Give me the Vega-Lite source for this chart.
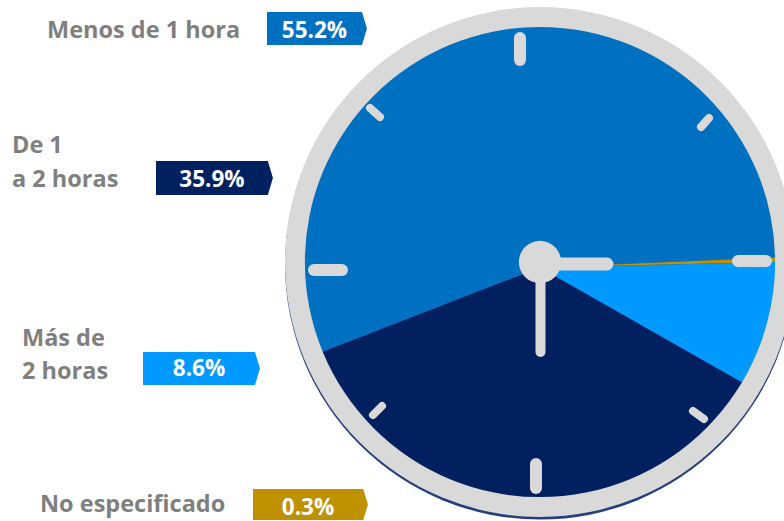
{
  "$schema": "https://vega.github.io/schema/vega-lite/v6.json",
  "width": 784,
  "height": 521,
  "autosize": {"type": "none"},
  "padding": 0,
  "background": "white",
  "config": {"view": {"stroke": null}},
  "layer": [
    {
      "data": {"values": [{"part": "sombra"}]},
      "mark": {"type": "arc", "theta": 0, "theta2": 6.2832, "color": "#23407E"},
      "encoding": {
        "x": {"datum": 0, "type": "quantitative", "scale": {"type": "linear", "domain": [-211.76, 95.69], "nice": false, "zero": false}, "axis": null},
        "y": {"datum": -1.0, "type": "quantitative", "scale": {"type": "linear", "domain": [-101.57, 102.75], "nice": false, "zero": false}, "axis": null},
        "radius": {"datum": 100, "type": "quantitative", "scale": {"type": "linear", "domain": [0, 100], "range": [0, 255], "zero": true}}
      }
    },
    {
      "data": {"values": [
        {"cat": "De 1 a 2 horas", "pct": 35.9, "ord": 1},
        {"cat": "Menos de 1 hora", "pct": 55.2, "ord": 2},
        {"cat": "No especificado", "pct": 0.3, "ord": 3},
        {"cat": "Más de 2 horas", "pct": 8.6, "ord": 4}
      ]},
      "mark": {"type": "arc", "stroke": null},
      "encoding": {
        "x": {"datum": 0, "type": "quantitative", "scale": {"type": "linear", "domain": [-211.76, 95.69], "nice": false, "zero": false}, "axis": null},
        "y": {"datum": -2.16, "type": "quantitative", "scale": {"type": "linear", "domain": [-101.57, 102.75], "nice": false, "zero": false}, "axis": null},
        "theta": {"field": "pct", "type": "quantitative", "stack": true, "scale": {"domain": [0, 100], "range": [2.0874, 8.3706]}},
        "order": {"field": "ord", "type": "quantitative"},
        "radius": {"datum": 96, "type": "quantitative"},
        "color": {"field": "cat", "type": "nominal", "scale": {"domain": ["Menos de 1 hora", "De 1 a 2 horas", "Más de 2 horas", "No especificado"], "range": ["#0070C0", "#002060", "#0099FF", "#BF9000"]}, "legend": null}
      }
    },
    {
      "data": {"values": [{"part": "aro"}]},
      "mark": {"type": "arc", "theta": 0, "theta2": 6.2832, "color": "#D9D9D9"},
      "encoding": {
        "x": {"datum": 0, "type": "quantitative", "scale": {"type": "linear", "domain": [-211.76, 95.69], "nice": false, "zero": false}, "axis": null},
        "y": {"datum": 0, "type": "quantitative", "scale": {"type": "linear", "domain": [-101.57, 102.75], "nice": false, "zero": false}, "axis": null},
        "radius": {"datum": 100, "type": "quantitative"},
        "radius2": {"datum": 92.2}
      }
    },
    {
      "data": {"values": [
        {"tipo": "cardinal", "x": -7.84, "y": 87.84, "x2": -7.84, "y2": 79.22},
        {"tipo": "cardinal", "x": -1.57, "y": -79.22, "x2": -1.57, "y2": -88.63},
        {"tipo": "cardinal", "x": -88.63, "y": -3.14, "x2": -77.65, "y2": -3.14},
        {"tipo": "cardinal", "x": 77.65, "y": 0.39, "x2": 88.63, "y2": 0.39}
      ]},
      "mark": {"type": "rule", "color": "#D9D9D9", "strokeWidth": 12, "strokeCap": "round"},
      "encoding": {
        "x": {"field": "x", "type": "quantitative", "scale": {"type": "linear", "domain": [-211.76, 95.69], "nice": false, "zero": false}, "axis": null},
        "y": {"field": "y", "type": "quantitative", "scale": {"type": "linear", "domain": [-101.57, 102.75], "nice": false, "zero": false}, "axis": null},
        "x2": {"field": "x2"},
        "y2": {"field": "y2"}
      }
    },
    {
      "data": {"values": [
        {"tipo": "diagonal", "x": -66.67, "y": 60.39, "x2": -62.75, "y2": 56.86},
        {"tipo": "diagonal", "x": 66.27, "y": 56.47, "x2": 63.14, "y2": 52.94},
        {"tipo": "diagonal", "x": -61.96, "y": -56.47, "x2": -65.49, "y2": -60.0},
        {"tipo": "diagonal", "x": 60.0, "y": -58.43, "x2": 64.31, "y2": -61.57}
      ]},
      "mark": {"type": "rule", "color": "#D9D9D9", "strokeWidth": 8, "strokeCap": "round"},
      "encoding": {
        "x": {"field": "x", "type": "quantitative", "scale": {"type": "linear", "domain": [-211.76, 95.69], "nice": false, "zero": false}, "axis": null},
        "y": {"field": "y", "type": "quantitative", "scale": {"type": "linear", "domain": [-101.57, 102.75], "nice": false, "zero": false}, "axis": null},
        "x2": {"field": "x2"},
        "y2": {"field": "y2"}
      }
    },
    {
      "data": {"values": [
        {"aguja": "minutero", "x": 0.2, "y": -3.0, "x2": 0.2, "y2": -35.3}
      ]},
      "mark": {"type": "rule", "color": "#D9D9D9", "strokeWidth": 10, "strokeCap": "round"},
      "encoding": {
        "x": {"field": "x", "type": "quantitative", "scale": {"type": "linear", "domain": [-211.76, 95.69], "nice": false, "zero": false}, "axis": null},
        "y": {"field": "y", "type": "quantitative", "scale": {"type": "linear", "domain": [-101.57, 102.75], "nice": false, "zero": false}, "axis": null},
        "x2": {"field": "x2"},
        "y2": {"field": "y2"}
      }
    },
    {
      "data": {"values": [
        {"aguja": "horario", "x": 3.1, "y": -0.78, "x2": 26.27, "y2": -0.78}
      ]},
      "mark": {"type": "rule", "color": "#D9D9D9", "strokeWidth": 13, "strokeCap": "round"},
      "encoding": {
        "x": {"field": "x", "type": "quantitative", "scale": {"type": "linear", "domain": [-211.76, 95.69], "nice": false, "zero": false}, "axis": null},
        "y": {"field": "y", "type": "quantitative", "scale": {"type": "linear", "domain": [-101.57, 102.75], "nice": false, "zero": false}, "axis": null},
        "x2": {"field": "x2"},
        "y2": {"field": "y2"}
      }
    },
    {
      "data": {"values": [{"part": "eje"}]},
      "mark": {"type": "arc", "theta": 0, "theta2": 6.2832, "color": "#D9D9D9"},
      "encoding": {
        "x": {"datum": 0, "type": "quantitative", "scale": {"type": "linear", "domain": [-211.76, 95.69], "nice": false, "zero": false}, "axis": null},
        "y": {"datum": 0, "type": "quantitative", "scale": {"type": "linear", "domain": [-101.57, 102.75], "nice": false, "zero": false}, "axis": null},
        "radius": {"datum": 8.3, "type": "quantitative"}
      }
    },
    {
      "data": {"values": [
        {"cat": "Menos de 1 hora", "x1": -107.06, "x2": -69.8, "y1": 98.04, "y2": 85.1},
        {"cat": "De 1 a 2 horas", "x1": -150.59, "x2": -106.67, "y1": 39.61, "y2": 26.27},
        {"cat": "Más de 2 horas", "x1": -155.69, "x2": -111.76, "y1": -35.29, "y2": -48.24},
        {"cat": "No especificado", "x1": -112.55, "x2": -69.41, "y1": -89.02, "y2": -101.18}
      ]},
      "mark": {"type": "rect"},
      "encoding": {
        "x": {"field": "x1", "type": "quantitative", "scale": {"type": "linear", "domain": [-211.76, 95.69], "nice": false, "zero": false}, "axis": null},
        "x2": {"field": "x2"},
        "y": {"field": "y1", "type": "quantitative", "scale": {"type": "linear", "domain": [-101.57, 102.75], "nice": false, "zero": false}, "axis": null},
        "y2": {"field": "y2"},
        "color": {"field": "cat", "type": "nominal", "legend": null}
      }
    },
    {
      "data": {"values": [
        {"cat": "Menos de 1 hora", "x": -69.8, "y": 91.57},
        {"cat": "De 1 a 2 horas", "x": -106.67, "y": 32.94},
        {"cat": "Más de 2 horas", "x": -111.76, "y": -41.76},
        {"cat": "No especificado", "x": -69.41, "y": -95.1}
      ]},
      "mark": {"type": "point", "filled": true, "opacity": 1, "size": 1089, "shape": "M0,-1L0.3,0L0,1Z", "strokeWidth": 0},
      "encoding": {
        "x": {"field": "x", "type": "quantitative", "scale": {"type": "linear", "domain": [-211.76, 95.69], "nice": false, "zero": false}, "axis": null},
        "y": {"field": "y", "type": "quantitative", "scale": {"type": "linear", "domain": [-101.57, 102.75], "nice": false, "zero": false}, "axis": null},
        "color": {"field": "cat", "type": "nominal", "legend": null}
      }
    },
    {
      "data": {"values": [
        {"valor": "55.2%", "x": -88.43, "y": 88.04},
        {"valor": "35.9%", "x": -128.63, "y": 29.41},
        {"valor": "8.6%", "x": -133.73, "y": -44.71},
        {"valor": "0.3%", "x": -90.98, "y": -99.22}
      ]},
      "mark": {"type": "text", "font": "Open Sans", "fontWeight": "bold", "fontSize": 22.5, "color": "white", "align": "center", "baseline": "alphabetic"},
      "encoding": {
        "x": {"field": "x", "type": "quantitative", "scale": {"type": "linear", "domain": [-211.76, 95.69], "nice": false, "zero": false}, "axis": null},
        "y": {"field": "y", "type": "quantitative", "scale": {"type": "linear", "domain": [-101.57, 102.75], "nice": false, "zero": false}, "axis": null},
        "text": {"field": "valor"}
      }
    },
    {
      "data": {"values": [
        {"linea": "Menos de 1 hora", "x": -193.33, "y": 88.04},
        {"linea": "De 1", "x": -207.06, "y": 42.75},
        {"linea": "a 2 horas", "x": -207.06, "y": 29.41},
        {"linea": "Más de", "x": -203.14, "y": -32.94},
        {"linea": "2 horas", "x": -203.14, "y": -45.88},
        {"linea": "No especificado", "x": -196.08, "y": -98.04}
      ]},
      "mark": {"type": "text", "font": "Open Sans", "fontWeight": "bold", "fontSize": 23.5, "color": "#7F7F7F", "align": "left", "baseline": "alphabetic"},
      "encoding": {
        "x": {"field": "x", "type": "quantitative", "scale": {"type": "linear", "domain": [-211.76, 95.69], "nice": false, "zero": false}, "axis": null},
        "y": {"field": "y", "type": "quantitative", "scale": {"type": "linear", "domain": [-101.57, 102.75], "nice": false, "zero": false}, "axis": null},
        "text": {"field": "linea"}
      }
    }
  ]
}
